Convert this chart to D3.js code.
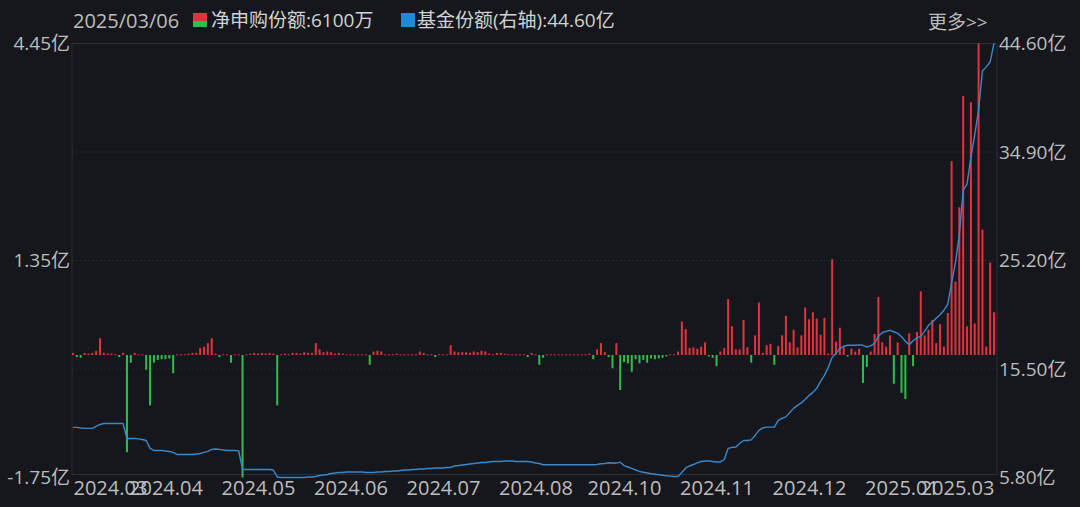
<!DOCTYPE html>
<html><head><meta charset="utf-8">
<script src="https://cdn.jsdelivr.net/npm/d3@7"></script>
<style>
html,body{margin:0;padding:0;background:#15171c;overflow:hidden;}
svg{display:block;}
text{font-family:"Open Sans","Noto Sans CJK SC",sans-serif;}
</style></head><body>
<svg id="chart" width="1080" height="507"></svg>
<script>
const dateLabel = "2025/03/06";
const seriesNames = ["净申购份额", "基金份额(右轴)"];
const latestValues = ["6100万", "44.60亿"];
const moreLabel = "更多>>";
const xTickLabels = ["2024.03","2024.04","2024.05","2024.06","2024.07","2024.08","2024.10","2024.11","2024.12","2025.01","2025.03"];
const leftTicks = [4.45, 1.35, -1.75];
const rightTicks = [44.60, 34.90, 25.20, 15.50, 5.80];

// 净申购份额 (亿), one per trading day
const netSubscription = [
 0.03,-0.03,-0.04,0.03,0.02,0.03,0.06,0.24,0.03,0.02,
 0.02,0.01,-0.03,0.03,-1.39,-0.11,0.03,0.01,0.01,-0.21,
 -0.72,-0.11,-0.07,-0.06,-0.06,-0.05,-0.26,0.01,0.01,0.01,
 0.02,0.03,0.03,0.10,0.12,0.17,0.24,0.02,-0.03,0.01,
 0.01,-0.11,0.01,0.01,-1.75,0.01,0.02,0.03,0.02,0.03,
 0.02,0.03,0.02,-0.72,0.01,0.02,0.01,0.03,0.03,0.02,
 0.04,0.03,0.03,0.17,0.08,0.04,0.05,0.04,0.02,0.03,
 0.02,0.01,0.01,0.01,0.01,0.01,0.01,-0.14,0.05,0.06,
 0.05,0.01,0.01,0.01,0.02,0.01,0.01,0.01,0.01,0.01,
 0.05,0.03,0.01,0.01,-0.03,0.01,0.01,0.01,0.14,0.05,
 0.04,0.04,0.04,0.03,0.05,0.04,0.06,0.05,0.02,0.01,
 0.03,0.03,0.02,0.01,0.01,0.01,0.01,0.01,-0.03,0.03,
 0.01,-0.14,-0.04,0.01,0.01,0.01,0.01,0.01,0.01,0.01,
 0.01,0.01,0.01,0.01,0.02,-0.06,0.08,0.17,0.04,-0.03,
 -0.19,0.17,-0.50,-0.10,-0.12,-0.24,-0.06,-0.12,-0.07,-0.11,
 -0.05,-0.06,-0.05,-0.04,-0.02,0.01,0.01,0.05,0.48,0.37,
 0.10,0.11,0.09,0.12,0.18,-0.02,-0.04,-0.16,0.05,0.10,
 0.80,0.41,0.08,0.08,0.50,0.11,-0.11,0.28,0.75,0.03,
 0.14,0.16,-0.14,0.13,0.28,0.56,0.18,0.36,0.11,0.28,
 0.68,0.51,0.61,0.52,0.29,0.53,0.02,1.37,0.19,0.39,
 0.11,-0.02,0.09,0.05,0.09,-0.40,-0.17,0.05,0.30,0.83,
 0.18,0.12,0.28,-0.41,0.18,-0.54,-0.63,0.31,-0.16,0.33,
 0.91,0.28,0.36,0.50,0.17,0.44,0.12,0.60,2.77,1.05,
 2.11,3.70,0.41,3.61,0.45,4.45,1.79,0.12,1.32,0.61
];

// 基金份额 (亿), right axis
const fundShares = [
 10.28,10.28,10.23,10.19,10.19,10.19,10.37,10.54,10.63,10.63,
 10.63,10.63,10.63,10.63,9.29,9.29,9.29,9.25,9.20,9.11,
 8.40,8.22,8.22,8.22,8.17,8.13,8.04,7.86,7.86,7.86,
 7.86,7.86,7.90,7.95,8.04,8.13,8.31,8.35,8.31,8.26,
 8.22,8.22,8.22,8.17,6.52,6.52,6.52,6.52,6.52,6.52,
 6.52,6.52,6.47,5.85,5.80,5.80,5.80,5.80,5.80,5.80,
 5.80,5.85,5.85,5.89,5.98,6.02,6.07,6.16,6.20,6.25,
 6.25,6.29,6.29,6.29,6.29,6.29,6.25,6.25,6.25,6.29,
 6.29,6.34,6.34,6.38,6.38,6.43,6.47,6.47,6.52,6.52,
 6.56,6.56,6.61,6.61,6.65,6.65,6.65,6.70,6.70,6.83,
 6.87,6.92,6.96,7.01,7.05,7.10,7.14,7.14,7.19,7.23,
 7.23,7.23,7.28,7.28,7.28,7.23,7.23,7.23,7.23,7.19,
 7.10,7.05,6.94,6.94,6.94,6.94,6.94,6.94,6.94,6.94,
 6.94,6.94,6.94,6.94,6.94,6.94,6.96,7.03,7.05,7.12,
 7.10,7.08,7.17,6.87,6.74,6.61,6.47,6.34,6.27,6.20,
 6.14,6.09,6.04,6.00,5.95,5.92,5.89,5.89,6.25,6.65,
 6.83,6.96,7.10,7.23,7.28,7.28,7.23,7.19,7.19,7.41,
 8.40,8.49,8.53,8.84,9.11,9.11,9.16,9.56,10.01,10.23,
 10.30,10.30,10.30,10.90,11.08,11.22,11.62,11.98,12.25,12.47,
 12.78,13.14,13.41,13.77,14.39,14.93,15.65,16.54,16.90,17.35,
 17.53,17.62,17.62,17.62,17.66,17.62,17.47,17.57,17.80,18.42,
 18.74,18.87,18.96,18.83,18.69,18.38,17.98,17.66,18.02,18.29,
 18.42,18.87,19.41,19.68,20.03,20.35,20.75,21.29,23.17,25.05,
 27.47,31.49,32.03,34.45,36.42,38.66,42.15,42.51,42.95,44.60
];

const W = 1080, H = 507;
const plot = {left: 72, right: 997, top: 43.5, bottom: 477.5};
const N = netSubscription.length;
const colors = {bg:"#15171c", up:"#e3323d", down:"#2fbd4c", line:"#3a88cc", grid:"#262930", frame:"#2d3037", text:"#bdbdbd", legend:"#d2d2d2"};
const fontStack = '"Open Sans","Noto Sans CJK SC",sans-serif';

const svg = d3.select("#chart");
svg.append("rect").attr("width", W).attr("height", H).attr("fill", colors.bg);

const x = d3.scaleLinear().domain([0, N - 1]).range([73, 994]);
const yL = d3.scaleLinear().domain([d3.min(leftTicks), d3.max(leftTicks)]).range([plot.bottom, plot.top]);
const yR = d3.scaleLinear().domain([d3.min(rightTicks), d3.max(rightTicks)]).range([plot.bottom, plot.top]);

// grid lines
svg.append("g").selectAll("line").data(rightTicks.slice(0, -1)).join("line")
  .attr("x1", plot.left).attr("x2", plot.right)
  .attr("y1", d => yR(d)).attr("y2", d => yR(d))
  .attr("stroke", (d, i) => i === 0 ? colors.frame : colors.grid)
  .attr("stroke-width", 1)
  .attr("stroke-dasharray", (d, i) => i === 0 ? null : "2,2");

// frame
const fb = plot.bottom - 3;
svg.append("line").attr("x1", plot.left).attr("x2", plot.left).attr("y1", plot.top).attr("y2", fb).attr("stroke", colors.frame);
svg.append("line").attr("x1", plot.right).attr("x2", plot.right).attr("y1", plot.top).attr("y2", fb).attr("stroke", colors.frame);
svg.append("line").attr("x1", plot.left).attr("x2", plot.right).attr("y1", fb).attr("y2", fb).attr("stroke", colors.frame);

// bars
const bw = 2;
svg.append("g").selectAll("rect").data(netSubscription).join("rect")
  .attr("x", (d, i) => x(i) - bw / 2)
  .attr("width", bw)
  .attr("y", d => Math.min(yL(d), yL(0)))
  .attr("height", d => Math.max(1, Math.abs(yL(d) - yL(0))))
  .attr("fill", d => d >= 0 ? colors.up : colors.down);

// line
const line = d3.line().x((d, i) => x(i)).y(d => yR(d));
svg.append("path").datum(fundShares).attr("d", line)
  .attr("fill", "none").attr("stroke", colors.line).attr("stroke-width", 1.4)
  .attr("stroke-linejoin", "round");

// left axis
const axL = svg.append("g").attr("transform", `translate(${plot.left - 2},0)`)
  .call(d3.axisLeft(yL).tickValues(leftTicks).tickSize(0).tickPadding(0).tickFormat(d => d.toFixed(2) + "亿"));
axL.select(".domain").remove();
axL.selectAll("text").attr("fill", colors.text).attr("font-size", 19).style("font-family", fontStack);

// right axis
const axR = svg.append("g").attr("transform", `translate(${plot.right + 2},0)`)
  .call(d3.axisRight(yR).tickValues(rightTicks).tickSize(0).tickPadding(0).tickFormat(d => d.toFixed(2) + "亿"));
axR.select(".domain").remove();
axR.selectAll("text").attr("fill", colors.text).attr("font-size", 19).style("font-family", fontStack);

// x axis
const tickIdx = xTickLabels.map((d, k) => Math.round(k * (N - 1) / (xTickLabels.length - 1)));
const axX = svg.append("g").attr("transform", `translate(0,${plot.bottom})`)
  .call(d3.axisBottom(x).tickValues(tickIdx).tickSize(0).tickPadding(3).tickFormat((d, i) => xTickLabels[i]));
axX.select(".domain").remove();
axX.selectAll("text").attr("fill", colors.text).attr("font-size", 20).style("font-family", fontStack)
  .attr("text-anchor", (d, i) => i === 0 ? "start" : (i === xTickLabels.length - 1 ? "end" : "middle"));

// header
const hdr = svg.append("g").attr("font-size", 19).style("font-family", fontStack);
hdr.append("text").attr("x", 73).attr("y", 20).attr("dominant-baseline", "central")
  .attr("font-size", 20).attr("fill", colors.text).text(dateLabel);
hdr.append("rect").attr("x", 193).attr("y", 13).attr("width", 14).attr("height", 8).attr("fill", colors.up);
hdr.append("rect").attr("x", 193).attr("y", 21).attr("width", 14).attr("height", 6).attr("fill", colors.down);
hdr.append("text").attr("x", 211).attr("y", 20).attr("dominant-baseline", "central")
  .attr("fill", colors.legend).text(seriesNames[0] + ":" + latestValues[0]);
hdr.append("rect").attr("x", 401).attr("y", 13).attr("width", 14).attr("height", 14).attr("fill", "#1f8bd8");
hdr.append("text").attr("x", 417).attr("y", 20).attr("dominant-baseline", "central")
  .attr("fill", colors.legend).text(seriesNames[1] + ":" + latestValues[1]);
hdr.append("text").attr("x", 928).attr("y", 22).attr("dominant-baseline", "central")
  .attr("fill", colors.text).text(moreLabel);
</script>
</body></html>
